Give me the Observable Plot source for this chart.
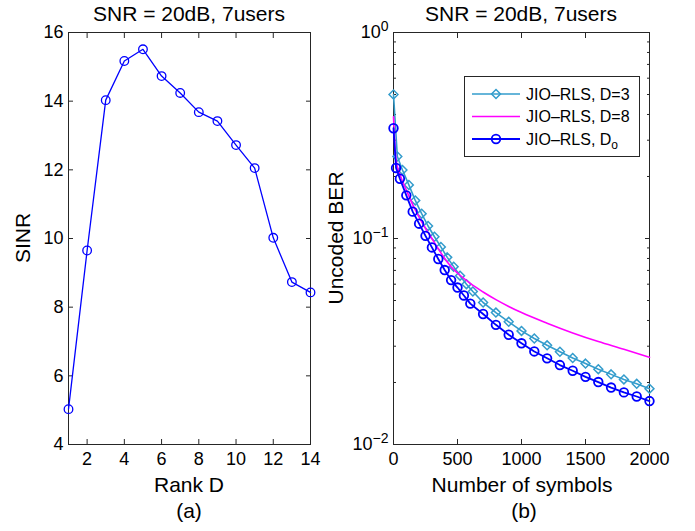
<!DOCTYPE html>
<html>
<head>
<meta charset="utf-8">
<script src="https://cdn.jsdelivr.net/npm/d3@7"></script>
<script src="https://cdn.jsdelivr.net/npm/@observablehq/plot@0.6"></script>
<style>
  html, body { margin: 0; padding: 0; background: #fff; }
  #wrap { position: relative; width: 695px; height: 531px; background: #fff; overflow: hidden; }
  #left, #right { position: absolute; top: 0; }
  #left { left: 0; }
  #right { left: 320px; }
</style>
</head>
<body>
<div id="wrap"><div id="left"></div><div id="right"></div></div>
<script>
// ---------- data: panel (a) ----------
const rankD = [1, 2, 3, 4, 5, 6, 7, 8, 9, 10, 11, 12, 13, 14];
const sinr = [5.03, 9.65, 14.03, 15.17, 15.51, 14.73, 14.24, 13.68, 13.42, 12.72, 12.05, 10.02, 8.73, 8.43];
const rankTicks = [2, 4, 6, 8, 10, 12, 14];
const sinrTicks = [4, 6, 8, 10, 12, 14, 16];

// ---------- data: panel (b) ----------
const symD3 = [0, 30, 70, 120, 170, 220, 270, 320, 370, 420, 470, 520, 570, 620, 700, 800, 900, 1000, 1100, 1200, 1300, 1400, 1500, 1600, 1700, 1800, 1900, 2000];
const berD3 = [0.5, 0.25, 0.215, 0.182, 0.153, 0.132, 0.115, 0.102, 0.091, 0.081, 0.073, 0.066, 0.060, 0.0553, 0.0489, 0.0437, 0.0394, 0.0356, 0.0327, 0.0303, 0.0282, 0.0263, 0.0247, 0.0232, 0.0219, 0.0207, 0.0197, 0.01866];

const symD8 = [0, 10, 20, 50, 100, 150, 200, 250, 300, 350, 400, 450, 500, 600, 700, 800, 900, 1000, 1200, 1400, 1600, 1800, 2000];
const berD8 = [0.39, 0.29, 0.24, 0.205, 0.172, 0.146, 0.127, 0.112, 0.100, 0.089, 0.080, 0.073, 0.068, 0.0605, 0.0550, 0.0505, 0.0468, 0.0437, 0.0388, 0.0348, 0.0316, 0.0290, 0.0265];

const symDo = [0, 20, 50, 100, 150, 200, 250, 300, 350, 400, 450, 500, 550, 600, 700, 800, 900, 1000, 1100, 1200, 1300, 1400, 1500, 1600, 1700, 1800, 1900, 2000];
const berDo = [0.343, 0.220, 0.195, 0.162, 0.135, 0.118, 0.103, 0.0905, 0.0795, 0.0703, 0.0628, 0.0578, 0.0529, 0.0483, 0.0430, 0.0381, 0.0341, 0.0310, 0.0283, 0.0262, 0.0243, 0.0228, 0.0213, 0.0201, 0.0189, 0.0179, 0.0171, 0.01625];

const symbolTicks = [0, 500, 1000, 1500, 2000];
const berMajorTicks = [1, 0.1, 0.01];
const berMinorTicks = [0.02, 0.03, 0.04, 0.05, 0.06, 0.07, 0.08, 0.09, 0.2, 0.3, 0.4, 0.5, 0.6, 0.7, 0.8, 0.9];

const titleText = "SNR = 20dB, 7users";
const legendLabels = ["JIO–RLS, D=3", "JIO–RLS, D=8", "JIO–RLS, D"];

const FONT = "'Liberation Sans', Arial, Helvetica, sans-serif";
const AX = "#262626";
const BLUE = "#0000ff", CYAN = "#339ccc", MAGENTA = "#ff00ff";

const tableA = rankD.map((d, i) => ({d, v: sinr[i]}));
const tD3 = symD3.map((s, i) => ({s, v: berD3[i]}));
const tD8 = symD8.map((s, i) => ({s, v: berD8[i]}));
const tDo = symDo.map((s, i) => ({s, v: berDo[i]}));

const style = {fontFamily: FONT, fontSize: "18px", color: "#000", background: "transparent", overflow: "visible"};
const blank = () => "";
const plain = d => String(d);

// ---------- panel (a) ----------
const left = Plot.plot({
  width: 320, height: 531,
  marginLeft: 68, marginRight: 10, marginTop: 32, marginBottom: 87,
  style,
  x: {type: "linear", domain: [1, 14]},
  y: {type: "linear", domain: [4, 16]},
  marks: [
    Plot.axisX({ticks: rankTicks, tickSize: -5, tickPadding: 13, tickFormat: plain, label: null, stroke: AX, fill: "#000"}),
    Plot.axisX({anchor: "top", ticks: rankTicks, tickSize: -5, tickFormat: blank, label: null, stroke: AX}),
    Plot.axisY({ticks: sinrTicks, tickSize: -5, tickPadding: 10, tickFormat: plain, label: null, stroke: AX, fill: "#000"}),
    Plot.axisY({anchor: "right", ticks: sinrTicks, tickSize: -5, tickFormat: blank, label: null, stroke: AX}),
    Plot.frame({stroke: AX, strokeWidth: 1}),
    Plot.line(tableA, {x: "d", y: "v", stroke: BLUE, strokeWidth: 1.3}),
    Plot.dot(tableA, {x: "d", y: "v", r: 4.3, stroke: BLUE, strokeWidth: 1.3, fill: "none"})
  ]
});
document.getElementById("left").appendChild(left);

// ---------- panel (b) ----------
const expFmt = d => { const e = Math.round(Math.log10(d)); return e < 0 ? "−" + (-e) : String(e); };
const right = Plot.plot({
  width: 375, height: 531,
  marginLeft: 73, marginRight: 46, marginTop: 32, marginBottom: 87,
  style,
  x: {type: "linear", domain: [0, 2000]},
  y: {type: "log", domain: [0.01, 1]},
  marks: [
    Plot.axisX({ticks: symbolTicks, tickSize: -5, tickPadding: 13, tickFormat: plain, label: null, stroke: AX, fill: "#000"}),
    Plot.axisX({anchor: "top", ticks: symbolTicks, tickSize: -5, tickFormat: blank, label: null, stroke: AX}),
    Plot.axisY({ticks: berMajorTicks, tickSize: -5, tickPadding: 10, tickFormat: expFmt, label: null, stroke: AX, fill: "#000"}),
    Plot.axisY({ticks: berMinorTicks, tickSize: -3, tickFormat: blank, label: null, stroke: AX}),
    Plot.axisY({anchor: "right", ticks: berMajorTicks, tickSize: -5, tickFormat: blank, label: null, stroke: AX}),
    Plot.axisY({anchor: "right", ticks: berMinorTicks, tickSize: -3, tickFormat: blank, label: null, stroke: AX}),
    Plot.frame({stroke: AX, strokeWidth: 1}),
    Plot.line(tD3, {x: "s", y: "v", stroke: CYAN, strokeWidth: 1.6}),
    Plot.dot(tD3, {x: "s", y: "v", symbol: "diamond2", r: 4, stroke: CYAN, strokeWidth: 1.5, fill: "none"}),
    Plot.line(tD8, {x: "s", y: "v", stroke: MAGENTA, strokeWidth: 1.6, curve: "monotone-x"}),
    Plot.line(tDo, {x: "s", y: "v", stroke: BLUE, strokeWidth: 1.8}),
    Plot.dot(tDo, {x: "s", y: "v", r: 4.3, stroke: BLUE, strokeWidth: 1.8, fill: "none"})
  ]
});
document.getElementById("right").appendChild(right);

// superscript exponents on log axis labels
d3.select(right).selectAll('g[aria-label="y-axis tick label"] text').each(function() {
  const e = this.textContent;
  if (!e) return;
  const t = d3.select(this);
  t.text("10");
  t.append("tspan").attr("dy", "-0.5em").attr("font-size", "14px").text(e);
});

// ---------- texts ----------
function addText(svg, x, y, txt, opts = {}) {
  const t = d3.select(svg).append("text")
    .attr("x", x).attr("y", y)
    .attr("text-anchor", opts.anchor || "middle")
    .attr("font-family", FONT)
    .attr("font-size", opts.size || "21px")
    .attr("fill", "#000")
    .text(txt);
  if (opts.rotate) t.attr("transform", `rotate(${opts.rotate},${x},${y})`);
  return t;
}
// panel (a)
addText(left, 189, 20.5, titleText);
addText(left, 30, 238, "SINR", {rotate: -90});
addText(left, 189, 491.5, "Rank D");
addText(left, 189, 518, "(a)");
// panel (b)
addText(right, 201, 20.5, titleText);
addText(right, 23, 238, "Uncoded BER", {rotate: -90});
addText(right, 202, 491.5, "Number of symbols");
addText(right, 204, 518, "(b)");

// ---------- legend ----------
const lg = d3.select(right).append("g").attr("font-family", FONT).attr("font-size", "16px").attr("text-anchor", "start");
lg.append("rect").attr("x", 144.5).attr("y", 76.5).attr("width", 175).attr("height", 80)
  .attr("fill", "#fff").attr("stroke", AX).attr("stroke-width", 1);
const rows = [
  {y: 94, color: CYAN, sym: "diamond", w: 1.6},
  {y: 116.5, color: MAGENTA, sym: null, w: 1.6},
  {y: 139, color: BLUE, sym: "circle", w: 1.8}
];
rows.forEach((r, i) => {
  lg.append("line").attr("x1", 152).attr("x2", 200).attr("y1", r.y).attr("y2", r.y)
    .attr("stroke", r.color).attr("stroke-width", r.w);
  if (r.sym === "circle") {
    lg.append("circle").attr("cx", 176).attr("cy", r.y).attr("r", 4.3)
      .attr("fill", "none").attr("stroke", r.color).attr("stroke-width", r.w);
  } else if (r.sym === "diamond") {
    lg.append("path").attr("d", d3.symbol(d3.symbolDiamond2, Math.PI * 16)())
      .attr("transform", `translate(176,${r.y})`)
      .attr("fill", "none").attr("stroke", r.color).attr("stroke-width", 1.5);
  }
  const t = lg.append("text").attr("x", 206).attr("y", r.y + 5.5).attr("text-anchor", "start").attr("fill", "#000").text(legendLabels[i]);
  if (i === 2) t.append("tspan").attr("dy", "4").attr("font-size", "12px").text("o");
});
</script>
</body>
</html>
